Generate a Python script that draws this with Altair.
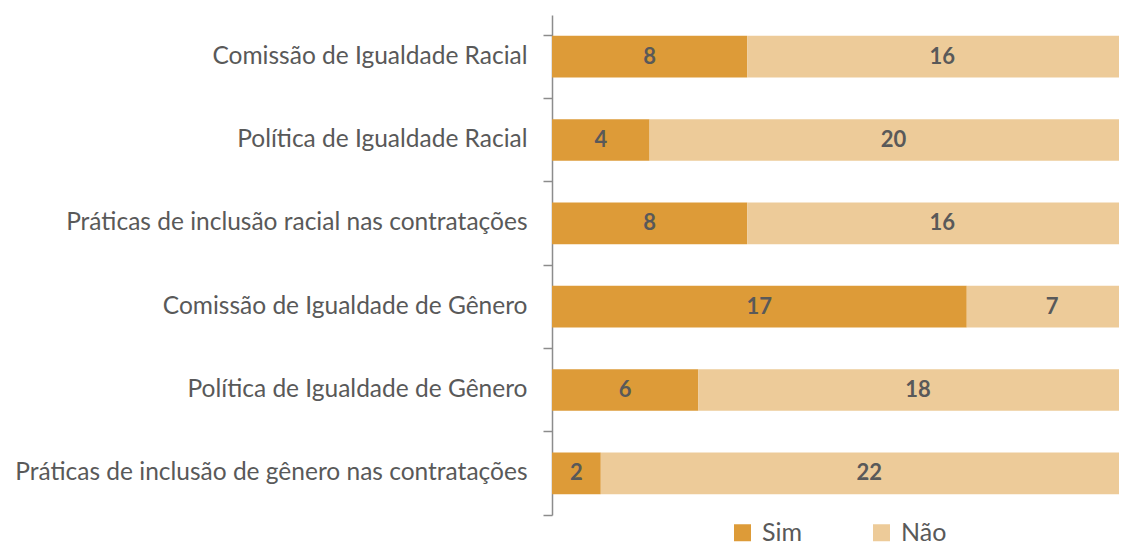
import altair as alt
import pandas as pd

categories = [
    "Comissão de Igualdade Racial",
    "Política de Igualdade Racial",
    "Práticas de inclusão racial nas contratações",
    "Comissão de Igualdade de Gênero",
    "Política de Igualdade de Gênero",
    "Práticas de inclusão de gênero nas contratações",
]
sim = [8, 4, 8, 17, 6, 2]
nao = [16, 20, 16, 7, 18, 22]
series = ["Sim", "Não"]
colors = ["#DD9B38", "#EDCB99"]

rows = []
for c, s, n in zip(categories, sim, nao):
    rows.append({"cat": c, "serie": "Sim", "value": s, "ord": 0})
    rows.append({"cat": c, "serie": "Não", "value": n, "ord": 1})
df = pd.DataFrame(rows)

base = alt.Chart(df).transform_stack(
    stack="value", groupby=["cat"], as_=["x0", "x1"], sort=[alt.SortField("ord")]
).transform_calculate(mid="(datum.x0 + datum.x1) / 2")

xscale = alt.Scale(domain=[0, 23.24], nice=False, zero=True)

y = alt.Y(
    "cat:N",
    sort=categories,
    title=None,
    scale=alt.Scale(paddingInner=0.5, paddingOuter=0.25),
    axis=alt.Axis(
        domainColor="#8C8C8C",
        domainWidth=1.5,
        tickColor="#8C8C8C",
        tickWidth=1.5,
        tickSize=9,
        bandPosition=1.5,
        tickExtra=True,
        labelFont="Lato",
        labelFontSize=24.5,
        labelColor="#595959",
        labelPadding=16,
        labelLimit=600,
        grid=False,
    ),
)

bars = base.mark_bar(clip=True).encode(
    y=y,
    x=alt.X("x0:Q", scale=xscale, axis=None),
    x2="x1:Q",
    color=alt.Color(
        "serie:N",
        scale=alt.Scale(domain=series, range=colors),
        legend=alt.Legend(
            title=None,
            orient="none",
            legendX=178,
            legendY=505,
            direction="horizontal",
            symbolType="square",
            symbolSize=289,
            symbolStrokeWidth=0,
            labelFont="Lato",
            labelFontSize=25,
            labelColor="#595959",
            columnPadding=66,
            labelOffset=7,
        ),
    ),
)

text = base.mark_text(
    font="Lato", fontSize=22, fontWeight="bold", color="#595959", baseline="middle"
).encode(
    y=alt.Y("cat:N", sort=categories),
    x=alt.X("mid:Q", scale=xscale),
    text="value:Q",
)

chart = (
    alt.layer(bars, text)
    .properties(
        width=567,
        height=500,
        autosize=alt.AutoSizeParams(type="none"),
        padding={"left": 544, "top": 7, "right": 0, "bottom": 33},
    )
    .configure_view(stroke=None)
)

chart.save("out.html", embed_options={"renderer": "svg", "actions": False})
